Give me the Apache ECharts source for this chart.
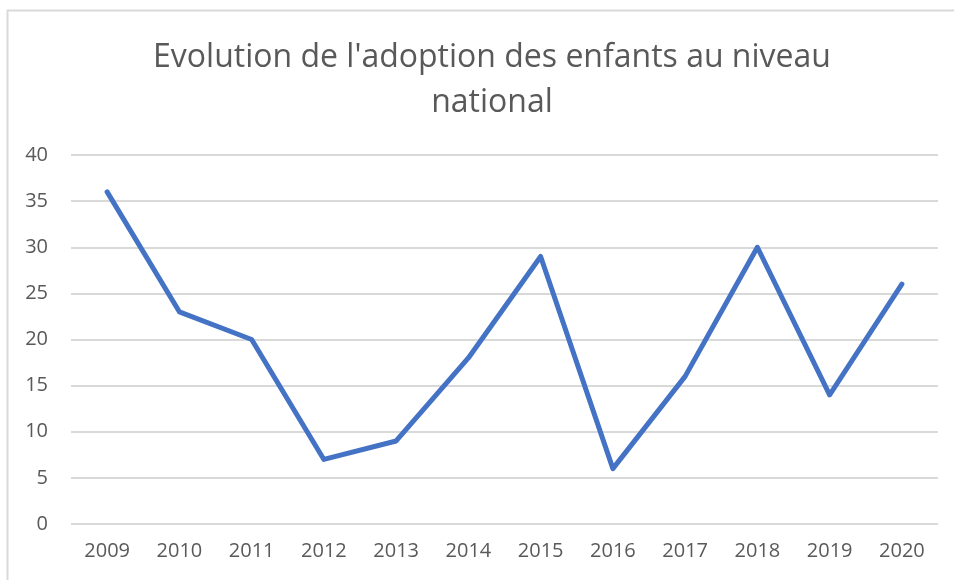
<!DOCTYPE html>
<html><head><meta charset="utf-8">
<script src="https://cdn.jsdelivr.net/npm/echarts@6/dist/echarts.min.js"></script>
<style>html,body{margin:0;padding:0;background:#fff}#c{width:954px;height:580px}</style>
</head><body><div id="c"></div>
<script>
const titleText = "Evolution de l'adoption des enfants au niveau\nnational";
const years = ["2009","2010","2011","2012","2013","2014","2015","2016","2017","2018","2019","2020"];
const adoptions = [36,23,20,7,9,18,29,6,16,30,14,26];
const yTicks = {min:0, max:40, interval:5};

const chart = echarts.init(document.getElementById('c'), null, {renderer:'canvas'});
chart.setOption({
  animation:false,
  backgroundColor:'#fff',
  graphic:[{type:'rect', shape:{x:7.5,y:10.5,width:1200,height:1200}, style:{fill:'none', stroke:'#d9d9d9', lineWidth:2}, silent:true}],
  title:{text:titleText, left:487, textAlign:'center', top:30,
    textStyle:{fontFamily:'Open Sans', fontWeight:'normal', fontSize:32, color:'#595959', lineHeight:45}},
  grid:{left:71, right:16, top:155, bottom:56, containLabel:false},
  xAxis:{type:'category', data:years, boundaryGap:true,
    axisLine:{show:false}, axisTick:{show:false},
    axisLabel:{fontFamily:'Open Sans', fontSize:20, color:'#595959', margin:17}},
  yAxis:{type:'value', min:yTicks.min, max:yTicks.max, interval:yTicks.interval,
    axisLine:{show:false}, axisTick:{show:false},
    splitLine:{lineStyle:{color:'#d9d9d9', width:2}},
    axisLabel:{fontFamily:'Open Sans', fontSize:20, color:'#595959', margin:23}},
  series:[{type:'line', data:adoptions, symbol:'none',
    lineStyle:{color:'#4472C4', width:5, cap:'round', join:'round'}}]
});
</script></body></html>
